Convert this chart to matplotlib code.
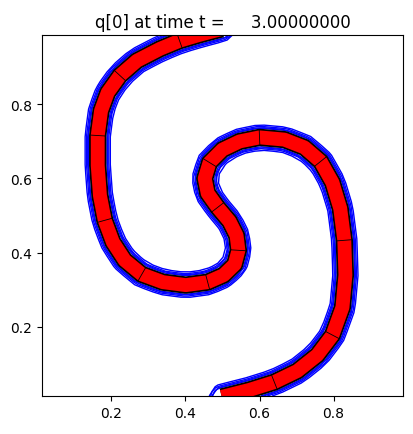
import numpy as np
import matplotlib
matplotlib.use('Agg')
import matplotlib.pyplot as plt

# centre line of the advected band
xc = [0.498, 0.438, 0.384, 0.331, 0.269, 0.223, 0.190, 0.172, 0.163, 0.163,
      0.169, 0.182, 0.204, 0.236, 0.282, 0.339, 0.401, 0.460, 0.503, 0.533,
      0.543, 0.538, 0.519, 0.487, 0.460, 0.452, 0.465, 0.500, 0.546, 0.600,
      0.667, 0.721, 0.765, 0.797, 0.818, 0.829, 0.832, 0.824, 0.797, 0.756,
      0.702, 0.640, 0.573, 0.498]
yc = [1.004, 0.988, 0.972, 0.950, 0.918, 0.878, 0.832, 0.783, 0.716, 0.635,
      0.554, 0.487, 0.428, 0.379, 0.341, 0.320, 0.312, 0.320, 0.339, 0.368,
      0.406, 0.446, 0.484, 0.522, 0.560, 0.600, 0.643, 0.678, 0.700, 0.711,
      0.705, 0.684, 0.646, 0.589, 0.519, 0.433, 0.339, 0.252, 0.177, 0.123,
      0.080, 0.050, 0.029, 0.010]

# grid extent (cell centres) and contour levels
xlower, xupper = 0.0125, 0.9875
coarse_levels = [0.027, 0.034]
fine_levels = [0.025, 0.03]
t_frame = 3.0

xc = np.array(xc)
yc = np.array(yc)


def dist_to_curve(X, Y):
    P = np.stack([X.ravel(), Y.ravel()], axis=1)
    A = np.stack([xc[:-1], yc[:-1]], axis=1)
    B = np.stack([xc[1:], yc[1:]], axis=1)
    AB = B - A
    AP = P[:, None, :] - A[None, :, :]
    t = np.clip((AP * AB[None]).sum(-1) / (AB ** 2).sum(-1)[None], 0, 1)
    proj = A[None] + t[..., None] * AB[None]
    d = np.sqrt(((P[:, None, :] - proj) ** 2).sum(-1)).min(axis=1)
    return d.reshape(X.shape)


fig = plt.figure(figsize=(4.13, 4.35), dpi=100)
ax = fig.add_axes([42 / 413, 34 / 435, 361 / 413, 369 / 435])

# blue contours on a coarse and a finer grid
for n, lev in [(40, coarse_levels), (80, fine_levels)]:
    g = np.linspace(xlower, xupper, n)
    X, Y = np.meshgrid(g, g)
    D = dist_to_curve(X, Y)
    ax.contour(X, Y, D, levels=lev, colors='b', linewidths=1.0)

# band: black edge under red fill
ax.plot(xc, yc, color='k', lw=12.5, solid_capstyle='butt', solid_joinstyle='round')
ax.plot(xc, yc, color='r', lw=10, solid_capstyle='butt', solid_joinstyle='round')

# patch edges crossing the band
for i in range(2, len(xc) - 1, 3):
    dx = xc[i + 1] - xc[i - 1]
    dy = yc[i + 1] - yc[i - 1]
    L = np.hypot(dx, dy)
    nx, ny = -dy / L * 0.019, dx / L * 0.019
    ax.plot([xc[i] - nx, xc[i] + nx], [yc[i] - ny, yc[i] + ny], color='k', lw=0.6)

ax.set_xlim(xlower, xupper)
ax.set_ylim(xlower, xupper)
ax.set_aspect('equal')
ax.set_xticks([0.2, 0.4, 0.6, 0.8])
ax.set_yticks([0.2, 0.4, 0.6, 0.8])
ax.set_title('q[0] at time t = %14.8f' % t_frame)

fig.savefig('out.png', dpi=100)
